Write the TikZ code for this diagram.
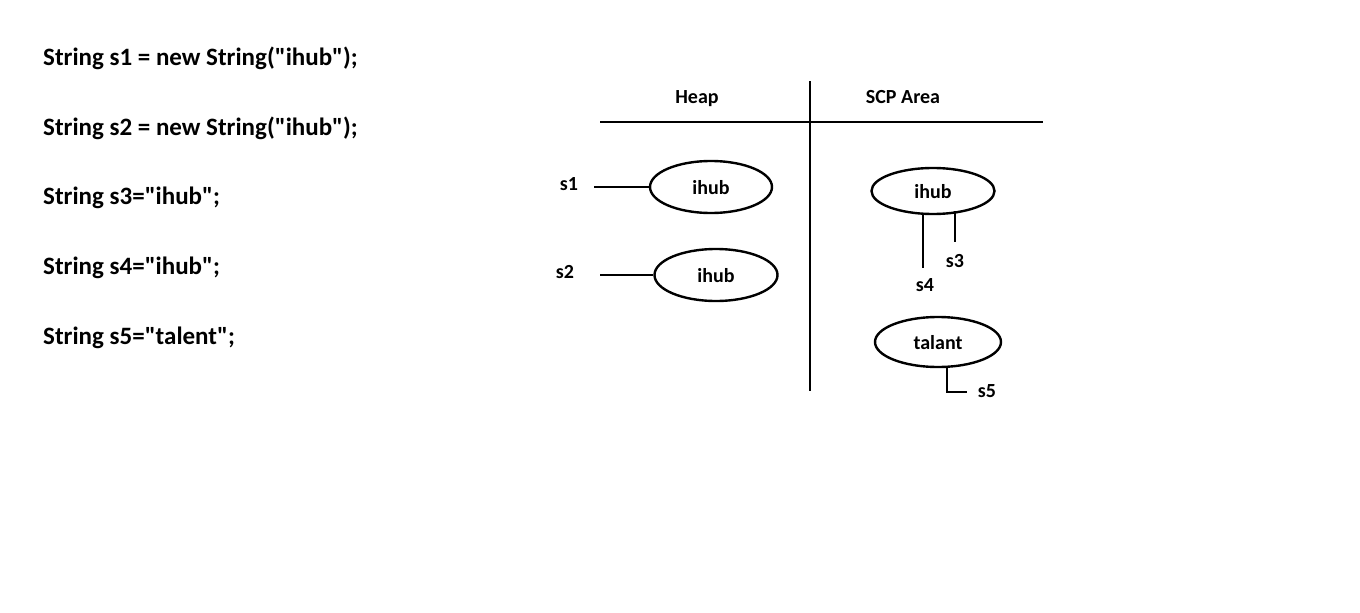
\documentclass[tikz,border=0pt]{standalone}
\usepackage{fontspec}
\setmainfont{Carlito}[Ligatures=TeXOff]
\usetikzlibrary{shapes.geometric}
\begin{document}
\begin{tikzpicture}[x=1pt,y=-1pt,
  code/.style={anchor=west,inner sep=0pt,font=\fontsize{25}{28}\selectfont\bfseries},
  lbl/.style={inner sep=0pt,font=\fontsize{20}{23}\selectfont\bfseries},
  obj/.style={ellipse,draw,line width=2.4pt,inner sep=0pt,text height=15pt,text depth=0pt,font=\fontsize{20}{23}\selectfont\bfseries},
  wire/.style={line width=2.6pt}]
\useasboundingbox (0,0) rectangle (1360,613);
\fill[white] (0,0) rectangle (1360,613);
% code lines
\node[code] (l1) at (43,58) {String s1 = new String("ihub");};
\node[code] (l2) at (43,128) {String s2 = new String("ihub");};
\node[code] (l3) at (43,198) {String s3="ihub";};
\node[code] (l4) at (43,268) {String s4="ihub";};
\node[code] (l5) at (43,338) {String s5="talent";};
% table lines
\coordinate (vt) at (810,81);
\coordinate (vb) at (810,391);
\coordinate (hl) at (600,122);
\coordinate (hr) at (1043,122);
\draw[wire] (vt) -- (vb);
\draw[wire] (hl) -- (hr);
\node[lbl] (heap) at (697,99) {Heap};
\node[lbl] (scp) at (903,97) {SCP Area};
% heap objects
\node[obj,minimum width=122pt,minimum height=52pt] (e1) at (711,187) {ihub};
\node[obj,minimum width=123pt,minimum height=52pt] (e2) at (716,275) {ihub};
\node[lbl] (s1) at (569,184) {s1};
\node[lbl] (s2) at (565,272) {s2};
\coordinate (s1e) at (594,187);
\coordinate (s2e) at (600,275);
\draw[wire] (s1e) -- (e1.west);
\draw[wire] (s2e) -- (e2.west);
% SCP objects
\node[obj,minimum width=123pt,minimum height=46pt] (c1) at (933,191) {ihub};
\node[obj,minimum width=126pt,minimum height=50pt] (c2) at (938,342) {talant};
\coordinate (s4t) at (923,213);
\coordinate (s4b) at (923,268);
\coordinate (s3t) at (955,211);
\coordinate (s3b) at (955,242);
\draw[wire] (s4t) -- (s4b);
\draw[wire] (s3t) -- (s3b);
\node[lbl] (s3) at (955,261) {s3};
\node[lbl] (s4) at (925,285) {s4};
\coordinate (s5t) at (947,367);
\coordinate (s5c) at (947,392);
\coordinate (s5r) at (967,392);
\draw[wire] (s5t) -- (s5c) -- (s5r);
\node[lbl] (s5) at (987,391) {s5};
\end{tikzpicture}
\end{document}
